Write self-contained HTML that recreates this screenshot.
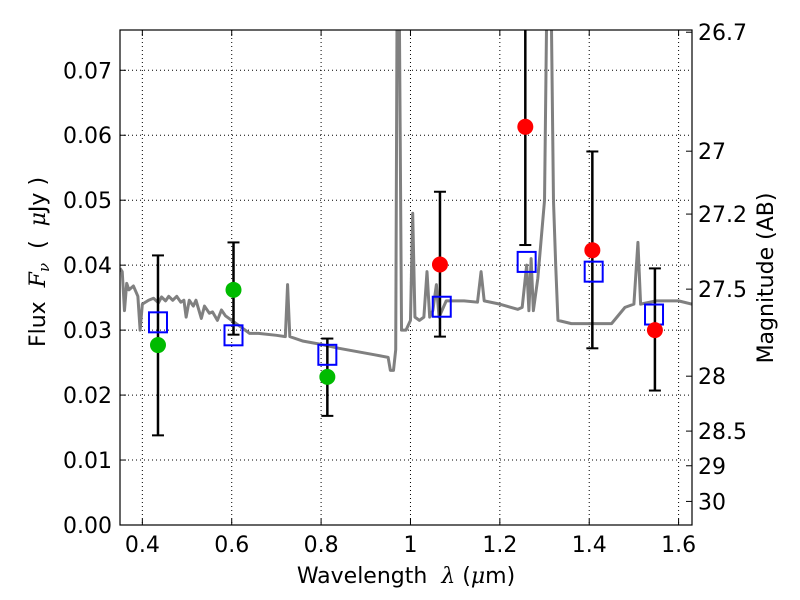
<!DOCTYPE html>
<html><head><meta charset="utf-8"><style>
body{margin:0;background:#fff;}
svg{display:block;font-family:"DejaVu Sans","Liberation Sans",sans-serif;}
</style></head><body>
<svg id="chart" width="800" height="600"></svg>
<script>
const xTicks=[0.4,0.6,0.8,1.0,1.2,1.4,1.6];
const xTickLabels=["0.4","0.6","0.8","1","1.2","1.4","1.6"];
const yTicks=[0,0.01,0.02,0.03,0.04,0.05,0.06,0.07];
const yTickLabels=["0.00","0.01","0.02","0.03","0.04","0.05","0.06","0.07"];
const magTicks=[26.7,27,27.2,27.5,28,28.5,29,30];
const magLabels=["26.7","27","27.2","27.5","28","28.5","29","30"];
const specW=[0.350,0.355,0.360,0.365,0.37,0.38,0.39,0.395,0.40,0.414,0.425,0.436,0.443,0.452,0.459,0.468,0.477,0.486,0.493,0.498,0.505,0.514,0.520,0.532,0.539,0.550,0.557,0.568,0.577,0.586,0.600,0.618,0.64,0.66,0.70,0.72,0.725,0.73,0.76,0.80,0.84,0.88,0.92,0.95,0.955,0.962,0.967,0.97,0.975,0.98,0.99,1.0,1.005,1.01,1.02,1.03,1.037,1.043,1.05,1.058,1.064,1.08,1.12,1.15,1.158,1.165,1.2,1.24,1.25,1.26,1.265,1.27,1.275,1.285,1.30,1.305,1.315,1.32,1.325,1.33,1.36,1.40,1.45,1.48,1.50,1.509,1.515,1.55,1.60,1.63];
const specF=[0.0395,0.039,0.033,0.0372,0.0362,0.0368,0.0352,0.030,0.034,0.0346,0.0349,0.0342,0.0351,0.0345,0.0352,0.0346,0.0352,0.0343,0.0346,0.032,0.0346,0.0337,0.0346,0.0318,0.0337,0.0326,0.0328,0.0315,0.0331,0.0322,0.0315,0.0306,0.0295,0.0295,0.0292,0.029,0.037,0.029,0.0283,0.0278,0.0272,0.0267,0.0262,0.0258,0.0238,0.0238,0.027,0.08,0.08,0.03,0.030,0.0315,0.048,0.032,0.0315,0.032,0.039,0.032,0.033,0.037,0.032,0.0345,0.0345,0.0343,0.039,0.0345,0.034,0.0332,0.0335,0.040,0.033,0.041,0.033,0.038,0.05,0.08,0.08,0.05,0.04,0.0315,0.031,0.031,0.031,0.0335,0.034,0.0435,0.034,0.0345,0.0345,0.034];
const modelW=[0.435,0.604,0.814,1.07,1.26,1.41,1.545];
const modelF=[0.0312,0.0292,0.0262,0.0336,0.0405,0.039,0.0324];
const greenW=[0.435,0.604,0.814];
const greenF=[0.0277,0.0362,0.0228];
const redW=[1.066,1.257,1.407,1.547];
const redF=[0.0401,0.0613,0.0423,0.030];
const errW=[0.435,0.604,0.814,1.066,1.257,1.407,1.547];
const errLo=[0.0138,0.0293,0.0168,0.029,0.0431,0.0272,0.0207];
const errHi=[0.0415,0.0435,0.0287,0.0513,0.09,0.0575,0.0395];

const L=120,R=692,T=30,B=525,xMin=0.35,xMax=1.63,yMin=0,yMax=0.0762;
const X=v=>L+(v-xMin)/(xMax-xMin)*(R-L);
const Y=v=>B-(v-yMin)/(yMax-yMin)*(B-T);
const NS="http://www.w3.org/2000/svg";
const svg=document.getElementById('chart');
function mk(t,a,p){const e=document.createElementNS(NS,t);for(const k in a)e.setAttribute(k,a[k]);(p||svg).appendChild(e);return e;}
const defs=mk('defs',{});const cp=mk('clipPath',{id:'cp'},defs);mk('rect',{x:L,y:T,width:R-L,height:B-T},cp);
const grid=mk('g',{});


xTicks.forEach(v=>mk('line',{x1:X(v),x2:X(v),y1:T,y2:B,stroke:'#000','stroke-width':1,'stroke-dasharray':'1,3'},grid));
yTicks.forEach(v=>mk('line',{x1:L,x2:R,y1:Y(v),y2:Y(v),stroke:'#000','stroke-width':1,'stroke-dasharray':'1,3'},grid));
const plot=mk('g',{'clip-path':'url(#cp)'});
const sp=mk('polyline',{points:specW.map((w,i)=>X(w)+','+Y(specF[i])).join(' '),fill:'none',stroke:'#808080','stroke-width':3,'stroke-linejoin':'round'},plot);


errW.forEach((w,i)=>{
 const g=mk('g',{},plot);
 
 
 mk('line',{x1:X(w),x2:X(w),y1:Y(errLo[i]),y2:Y(errHi[i]),stroke:'#000','stroke-width':2.5},g);
 mk('line',{x1:X(w)-6,x2:X(w)+6,y1:Y(errLo[i]),y2:Y(errLo[i]),stroke:'#000','stroke-width':2},g);
 mk('line',{x1:X(w)-6,x2:X(w)+6,y1:Y(errHi[i]),y2:Y(errHi[i]),stroke:'#000','stroke-width':2},g);
});
modelW.forEach((w,i)=>{
 const r=mk('rect',{x:X(w)-9,y:Y(modelF[i])-10,width:18,height:20,fill:'none',stroke:'#0000ff','stroke-width':2},plot);
 
 
});
greenW.forEach((w,i)=>{
 const c=mk('circle',{cx:X(w),cy:Y(greenF[i]),r:8,fill:'#00bb00'},plot);
 
 
});
redW.forEach((w,i)=>{
 const c=mk('circle',{cx:X(w),cy:Y(redF[i]),r:8,fill:'#ff0000'},plot);
 
 
});
const fr=mk('rect',{x:L,y:T,width:R-L,height:B-T,fill:'none',stroke:'#000','stroke-width':1.2});


const FS=22;
xTicks.forEach((v,i)=>{
 mk('line',{x1:X(v),x2:X(v),y1:B,y2:B-6,stroke:'#000'});
 mk('line',{x1:X(v),x2:X(v),y1:T,y2:T+6,stroke:'#000'});
 const t=mk('text',{x:X(v),y:B+27,'text-anchor':'middle','font-size':FS});t.textContent=xTickLabels[i];
 
 
});
yTicks.forEach((v,i)=>{
 mk('line',{x1:L,x2:L+6,y1:Y(v),y2:Y(v),stroke:'#000'});
 const t=mk('text',{x:L-8,y:Y(v)+8,'text-anchor':'end','font-size':FS});t.textContent=yTickLabels[i];
 
 
});
magTicks.forEach((m,i)=>{
 const y=Y(Math.pow(10,-0.4*(m-23.9)));
 mk('line',{x1:R,x2:R-6,y1:y,y2:y,stroke:'#000'});
 const t=mk('text',{x:R+6,y:y+8,'font-size':FS});t.textContent=magLabels[i];
 
 
});
const xt=mk('text',{x:406,y:583,'text-anchor':'middle','font-size':FS});
xt.innerHTML='Wavelength\u00a0\u00a0<tspan font-style="italic" font-family="DejaVu Serif,serif">λ</tspan> (<tspan font-style="italic" font-family="DejaVu Serif,serif">μ</tspan>m)';


const yt=mk('text',{x:0,y:0,'text-anchor':'middle','font-size':FS,transform:'translate(45,262) rotate(-90)'});
yt.innerHTML='Flux\u00a0\u00a0<tspan font-style="italic" font-family="DejaVu Serif,serif">F</tspan><tspan font-style="italic" font-size="15" dy="4" font-family="DejaVu Serif,serif">ν</tspan><tspan dy="-4">\u00a0\u00a0(\u00a0\u00a0</tspan><tspan font-style="italic" font-family="DejaVu Serif,serif">μ</tspan>Jy )';


const rt=mk('text',{x:0,y:0,'text-anchor':'middle','font-size':FS,transform:'translate(773,278) rotate(-90)'});
rt.textContent='Magnitude (AB)';


</script>
</body></html>
